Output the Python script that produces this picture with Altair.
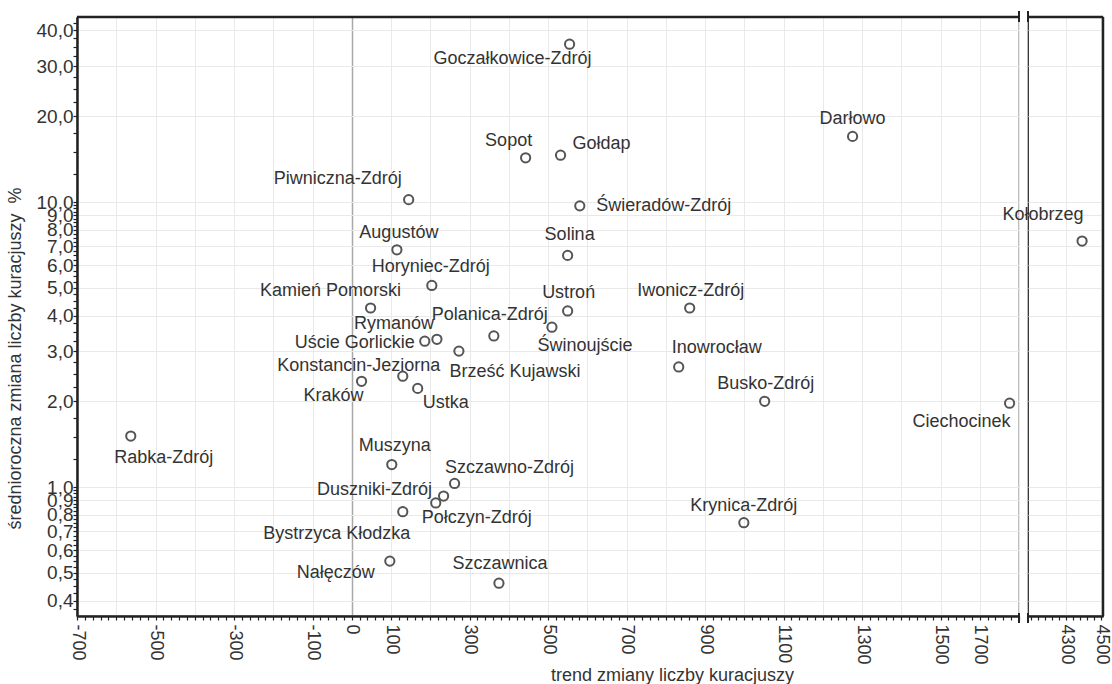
import altair as alt
import pandas as pd

FONT = "Liberation Sans"

# Spa towns: trend of the visitor count (x) against the mean annual change in %, log scale (y)
towns = ["Goczałkowice-Zdrój", "Darłowo", "Sopot", "Gołdap", "Piwniczna-Zdrój",
         "Świeradów-Zdrój", "Kołobrzeg", "Augustów", "Solina", "Horyniec-Zdrój",
         "Kamień Pomorski", "Ustroń", "Iwonicz-Zdrój", "Polanica-Zdrój", "Rymanów",
         "Uście Gorlickie", "Świnoujście", "Brześć Kujawski", "Inowrocław",
         "Konstancin-Jeziorna", "Kraków", "Ustka", "Busko-Zdrój", "Ciechocinek",
         "Rabka-Zdrój", "Muszyna", "Szczawno-Zdrój", "Duszniki-Zdrój", "Połczyn-Zdrój",
         "Bystrzyca Kłodzka", "Krynica-Zdrój", "Nałęczów", "Szczawnica"]
trend = [555, 1276, 443, 532, 145, 581, 4390, 115, 550, 204,
         48, 550, 861, 362, 217, 186, 510, 273, 833, 130,
         25, 168, 1052, 1676, -563, 102, 262, 234, 214, 130,
         999, 97, 375]
change = [35.8, 17.0, 14.3, 14.6, 10.2, 9.7, 7.3, 6.8, 6.5, 5.1,
          4.25, 4.15, 4.25, 3.39, 3.3, 3.25, 3.64, 3.0, 2.64, 2.45,
          2.35, 2.22, 2.0, 1.97, 1.51, 1.2, 1.03, 0.93, 0.88, 0.82,
          0.75, 0.55, 0.46]

# label placement: offset in px from each point to the centre of its name
label_dx = [-57, 0, -17, 41, -71, 84, -39, 2, 2, -1,
            -40, 1, 1, -4, -43, -70, 33, 56, 38, -44,
            -28, 28, 1, -48, 33, 3, 55, -69, 41, -66,
            0, -54, 1]
label_dy = [15, -17, -17, -11, -21, 0, -26, -17, -20, -18,
            -17, -18, -17, -21, -15, 2, 19, 21, -19, -10,
            15, 15, -17, 19, 22, -19, -15, -6, 15, 22,
            -17, 12, -19]

# axis ticks and labels
Y_MAJOR = [0.4, 0.5, 0.6, 0.7, 0.8, 0.9, 1, 2, 3, 4, 5, 6, 7, 8, 9, 10, 20, 30, 40]
Y_MINOR = sorted(set([round(0.375 + 0.025 * i, 3) for i in range(26)]
                     + [round(1 + 0.25 * i, 2) for i in range(37)]
                     + [round(10 + 2.5 * i, 1) for i in range(14)]) - set(Y_MAJOR))
X_TICKS_L = list(range(-700, 1701, 20))
X_LABELLED = [-700, -500, -300, -100, 0, 100, 300, 500, 700, 900, 1100, 1300, 1500]
X_MAJOR_R = [4300, 4500]
X_TICKS_R = list(range(4100, 4501, 40))

Y_DOMAIN = [0.353, 44.6]
X_DOMAIN_L = [-700, 1700]
X_DOMAIN_R = [4080, 4510]
W_L, W_R, H = 942, 75, 599

df = pd.DataFrame({"town": towns, "trend": trend, "change": change,
                   "dx": label_dx, "dy": label_dy})

INK = "#222222"
TEXT = "#333333"
GRID = "#e9e9e9"
ys = alt.Scale(type="log", domain=Y_DOMAIN, nice=False)
y_major_test = f"indexof({Y_MAJOR}, datum.value) >= 0"


def cond(test, yes, no):
    return {"condition": {"test": test, "value": yes}, "value": no}


def frame_line(x0, x1, y0, y1, width=2.5):
    one = alt.Chart(pd.DataFrame({"k": [0]}))
    return one.mark_rule(color=INK, strokeWidth=width).encode(
        x=alt.value(x0), x2=alt.value(x1), y=alt.value(y0), y2=alt.value(y1))


def panel(data, xs, width, x_label_axis, y_label_axis, outer_right, break_x):
    # every layer carries the same axis definitions, so the shared axes merge cleanly
    X = alt.X("trend:Q", scale=xs, axis=x_label_axis)
    Y = alt.Y("change:Q", scale=ys, axis=y_label_axis)
    pts = data.mark_point(shape="circle", filled=False, size=85, strokeWidth=2,
                          color="#555555", opacity=1).encode(x=X, y=Y)
    names = data.mark_text(
        font=FONT, fontSize=18, color=TEXT, baseline="middle", align="center",
        dx={"expr": "datum.dx"}, dy={"expr": "datum.dy"}
    ).encode(x=X, y=Y, text="town:N")

    layers = [pts, frame_line(0, width, 0, 0)]
    if outer_right:
        layers.append(frame_line(width, width, 0, H))
    # short marks where the x axis is broken
    layers.append(frame_line(break_x, break_x, -6, 5, width=2))
    layers.append(frame_line(break_x, break_x, H - 3, H + 7, width=2))
    layers.append(names)
    return alt.layer(*layers).properties(width=width, height=H)


# left part of the broken x axis; the 1700 label sits one grid step in from the break
x_label_expr_l = (f"datum.value == 1600 ? '1700' : "
                  f"(indexof({X_LABELLED}, datum.value) >= 0 ? '' + datum.value : '')")
x_axis_l = alt.Axis(orient="bottom", values=X_TICKS_L, grid=True,
                    gridColor=cond("datum.value == 0", "#a8a8a8", GRID),
                    gridWidth=cond("datum.value == 0", 1.5, 1),
                    gridOpacity=cond("datum.value % 100 == 0", 1, 0),
                    ticks=True, tickSize=4, tickColor=INK, tickWidth=1.2,
                    domain=True, domainColor=INK, domainWidth=2.5,
                    labelExpr=x_label_expr_l, labelAngle=90, labelFontSize=18,
                    labelPadding=4, labelFont=FONT, labelColor=TEXT, labelOverlap=False,
                    title="trend zmiany liczby kuracjuszy", titleFont=FONT,
                    titleFontSize=18, titleFontWeight="normal", titleColor=TEXT,
                    titleX=595, titleY=59, titleBaseline="middle", titleAlign="center")
y_axis_l = alt.Axis(orient="left", values=sorted(Y_MAJOR + Y_MINOR), grid=True,
                    gridColor=GRID, gridOpacity=cond(y_major_test, 1, 0),
                    ticks=True, tickSize=4, tickColor=INK, tickWidth=1.2,
                    domain=True, domainColor=INK, domainWidth=2.5,
                    labelExpr=(f"{y_major_test} ? "
                               "replace(format(datum.value, '.1f'), '.', ',') : ''"),
                    labelFontSize=19, labelPadding=0, labelFont=FONT, labelColor=TEXT,
                    labelOverlap=False,
                    title="średnioroczna zmiana liczby kuracjuszy\u00a0 %", titleFont=FONT,
                    titleFontSize=18, titleFontWeight="normal", titleColor=TEXT,
                    titleX=-62, titleY=341, titleBaseline="middle", titleAlign="center",
                    titleAngle=270)

left = panel(alt.Chart(df).transform_filter(alt.datum.trend < 2000),
             alt.Scale(domain=X_DOMAIN_L, nice=False, zero=False), W_L,
             x_axis_l, y_axis_l, outer_right=False, break_x=W_L)

# right part of the broken x axis
x_major_test_r = f"indexof({X_MAJOR_R}, datum.value) >= 0"
x_axis_r = alt.Axis(orient="bottom", values=X_TICKS_R, grid=True, gridColor=GRID,
                    gridOpacity=cond(x_major_test_r, 1, 0),
                    ticks=True, tickSize=4, tickColor=INK, tickWidth=1.2,
                    domain=True, domainColor=INK, domainWidth=2.5,
                    labelExpr=f"{x_major_test_r} ? '' + datum.value : ''",
                    labelAngle=90, labelFontSize=18,
                    labelPadding=4, labelFont=FONT, labelColor=TEXT, labelOverlap=False,
                    title=None)
y_axis_r = alt.Axis(orient="left", values=Y_MAJOR, grid=True, gridColor=GRID,
                    ticks=False, tickSize=0, domain=False, labels=False, title=None)

right = panel(alt.Chart(df).transform_filter(alt.datum.trend > 2000),
              alt.Scale(domain=X_DOMAIN_R, nice=False, zero=False), W_R,
              x_axis_r, y_axis_r, outer_right=True, break_x=0)

chart = alt.hconcat(left, right, spacing=9, bounds="flush").properties(
    padding={"left": 5, "top": 9, "right": 0, "bottom": 0},
    background="white",
).configure_view(stroke=INK, strokeWidth=1.2)

chart.save("out.html", embed_options={"renderer": "svg", "actions": False})
